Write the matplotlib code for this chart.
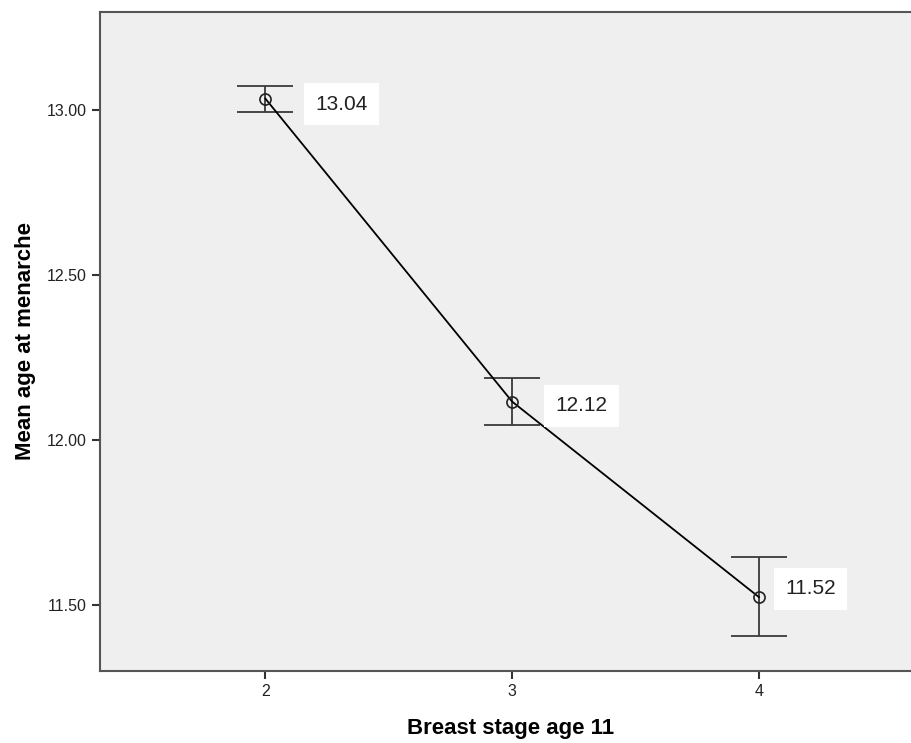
import matplotlib.pyplot as plt

# Data
stages = [2, 3, 4]
means = [13.036, 12.117, 11.524]
err_low = [12.994, 12.047, 11.405]
err_high = [13.073, 12.189, 11.647]
labels = ['13.04', '12.12', '11.52']
# where each label box sits relative to its point (points)
label_offsets = [(55, -4), (50, -3), (37, 6)]

plt.rcParams['font.family'] = ['Liberation Sans', 'DejaVu Sans']

fig = plt.figure(figsize=(9.12, 7.43), dpi=100)
ax = fig.add_axes([0.1096, 0.0969, 0.8904, 0.8876])
ax.set_facecolor('#efefef')

yerr = [[m - lo for m, lo in zip(means, err_low)],
        [hi - m for m, hi in zip(means, err_high)]]

ax.errorbar(stages, means, yerr=yerr, fmt='none', ecolor='#3a3a3a',
            elinewidth=1.3, capsize=20.5, capthick=1.3, zorder=2)
ax.plot(stages, means, color='black', linewidth=1.3, marker='o',
        markersize=8, markerfacecolor='none', markeredgecolor='#222222',
        markeredgewidth=1.2, zorder=3)

for x, y, txt, off in zip(stages, means, labels, label_offsets):
    ax.annotate(txt, (x, y), xytext=off, textcoords='offset points',
                ha='center', va='center', fontsize=15, color='#222222',
                bbox=dict(boxstyle='square,pad=0.55', fc='white', ec='none'))

ax.set_xlim(1.33, 4.62)
ax.set_ylim(11.30, 13.30)
ax.set_xticks(stages)
ax.set_yticks([11.5, 12.0, 12.5, 13.0])
ax.set_yticklabels(['11.50', '12.00', '12.50', '13.00'])
ax.tick_params(axis='both', labelsize=11.5, color='#333333', length=6,
               width=1.5, labelcolor='#222222')

for side in ['left', 'bottom', 'top']:
    ax.spines[side].set_color('#555555')
    ax.spines[side].set_linewidth(1.5)
ax.spines['right'].set_visible(False)

ax.set_xlabel('Breast stage age 11', fontsize=16, fontweight='bold')
ax.xaxis.set_label_coords(0.506, -0.072)
ax.set_ylabel('Mean age at menarche', fontsize=16, fontweight='bold', labelpad=8)

fig.savefig('out.png', dpi=100)
